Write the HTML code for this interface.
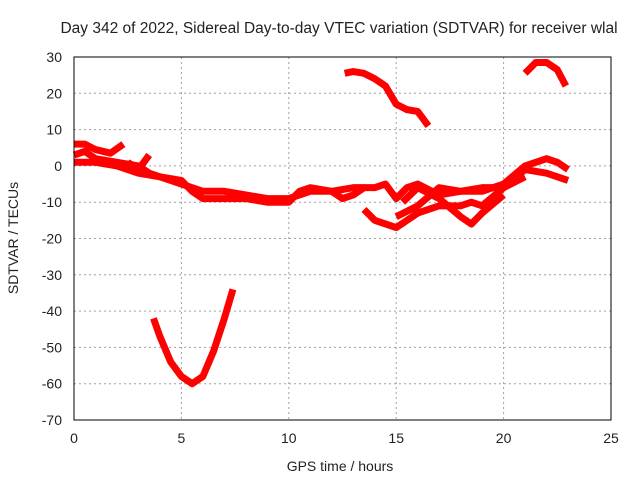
<!DOCTYPE html>
<html><head><meta charset="utf-8"><style>
body{margin:0;background:#fff}
svg text{font-family:"Liberation Sans",sans-serif;font-size:14px;fill:#222}
</style></head><body>
<svg id="c" width="640" height="480" xmlns="http://www.w3.org/2000/svg">
<text x="339" y="33" text-anchor="middle" style="font-size:15.5px">Day 342 of 2022, Sidereal Day-to-day VTEC variation (SDTVAR) for receiver wlal</text>
<text x="340" y="471" text-anchor="middle">GPS time / hours</text>
<text x="18" y="238" text-anchor="middle" transform="rotate(-90 18 238)">SDTVAR / TECUs</text>
<g id="grid"></g><g id="series"></g>
<rect x="74" y="57" width="537" height="363" fill="none" stroke="#000" stroke-width="1"/>
</svg>
<script>
const xTicks=[0,5,10,15,20,25];
const yTicks=[30,20,10,0,-10,-20,-30,-40,-50,-60,-70];
const s1=[[0,1],[1,1],[2,0],[3,-2],[4,-3],[5,-5],[6,-7],[7,-7],[8,-8],[9,-9],[10,-9],[11,-7],[12,-7],[13,-6],[14,-6],[14.5,-5],[15,-9],[15.5,-6],[16,-5],[17,-8],[18,-7],[19,-7],[20,-5],[21,0],[22,2],[22.5,1],[23,-1]];
const s2=[[0,6],[0.5,6],[1,4.5],[1.7,3.5],[2.3,6]];
const s3=[[0,3],[0.5,4],[1,2],[2,1],[3,0],[3.5,-2],[4,-3],[5,-4],[5.5,-7],[6,-9],[7,-9],[8,-9],[9,-10],[10,-10],[10.5,-7],[11,-6],[12,-7],[12.5,-9],[13,-8],[13.5,-6]];
const s4=[[2.5,1],[3,-1],[3.5,3]];
const s5=[[13.5,-12],[14,-15],[15,-17],[16,-13],[17,-11],[18,-11],[18.5,-10],[19,-11],[20,-6],[21,-1],[22,-2],[23,-4]];
const s6=[[15.3,-10],[16,-6],[17,-9],[18,-14],[18.5,-16],[19,-13],[20,-8]];
const s7=[[15,-14],[16,-11],[17,-6],[18,-7],[19,-6],[20,-6],[21,-3]];
const s8=[[12.6,25.5],[13,26],[13.5,25.5],[14,24],[14.5,22],[15,17],[15.5,15.5],[16,15],[16.5,11]];
const s9=[[21,25.5],[21.5,28.5],[22,28.5],[22.5,26.5],[22.9,22]];
const s10=[[3.7,-42],[4,-47],[4.5,-54],[5,-58],[5.5,-60],[6,-58],[6.5,-51],[7,-42],[7.4,-34]];
const allSeries=[s1,s2,s3,s4,s5,s6,s7,s8,s9,s10];
const NS='http://www.w3.org/2000/svg';
const X=h=>74+h*(537/25);
const Y=v=>57+(30-v)*(363/100);
const grid=document.getElementById('grid');
xTicks.forEach(t=>{
  const x=X(t);
  if(t>0&&t<25){const l=document.createElementNS(NS,'line');
  l.setAttribute('x1',x);l.setAttribute('x2',x);l.setAttribute('y1',57);l.setAttribute('y2',420);
  l.setAttribute('stroke','#a0a0a0');l.setAttribute('stroke-dasharray','2,3');
  
  
  grid.appendChild(l);}
  const tx=document.createElementNS(NS,'text');
  tx.setAttribute('x',x);tx.setAttribute('y',443);tx.setAttribute('text-anchor','middle');
  tx.textContent=t;
  
  
  grid.appendChild(tx);
});
yTicks.forEach(t=>{
  const y=Y(t);
  if(t<30&&t>-70){const l=document.createElementNS(NS,'line');
  l.setAttribute('x1',74);l.setAttribute('x2',611);l.setAttribute('y1',y);l.setAttribute('y2',y);
  l.setAttribute('stroke','#a0a0a0');l.setAttribute('stroke-dasharray','2,3');
  
  
  grid.appendChild(l);}
  const tx=document.createElementNS(NS,'text');
  tx.setAttribute('x',62);tx.setAttribute('y',y+5);tx.setAttribute('text-anchor','end');
  tx.textContent=t;
  
  
  grid.appendChild(tx);
});
const sg=document.getElementById('series');
allSeries.forEach((s,i)=>{
  const p=document.createElementNS(NS,'polyline');
  p.setAttribute('points',s.map(d=>X(d[0])+','+Y(d[1])).join(' '));
  p.setAttribute('fill','none');p.setAttribute('stroke','#ff0000');
  p.setAttribute('stroke-width','7');p.setAttribute('stroke-linejoin','round');
  
  
  sg.appendChild(p);
});
</script>
</body></html>
